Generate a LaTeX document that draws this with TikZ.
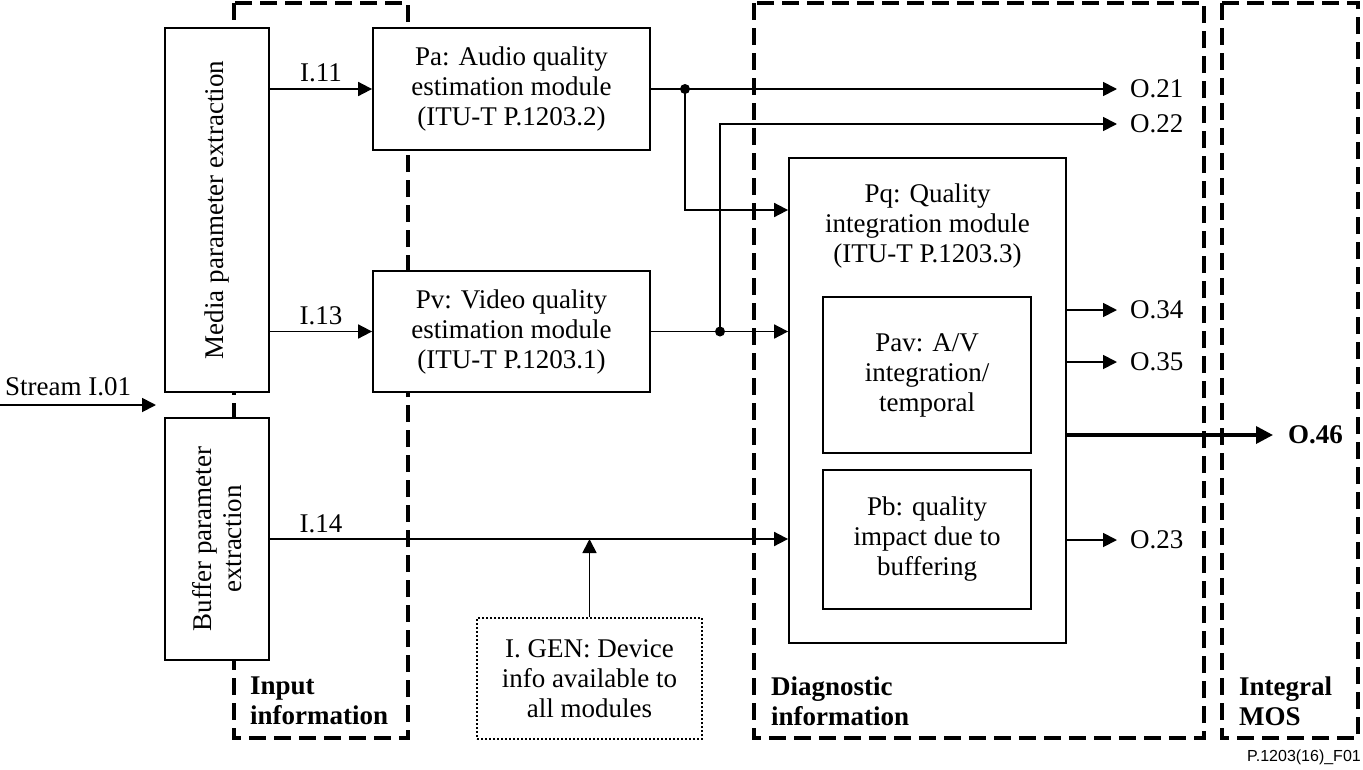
\documentclass[tikz,border=0pt]{standalone}
\usepackage{fontspec}
\setmainfont{Liberation Serif}
\newfontfamily\footfont{Liberation Sans}
\usetikzlibrary{arrows.meta,calc}
\tikzset{
  box/.style={draw, line width=1.8pt, fill=white, inner sep=0pt, align=center},
  dotbox/.style={draw, line width=1.5pt, dash pattern=on 2pt off 2pt, fill=white, inner sep=0pt, align=center},
  region/.style={draw, line width=3.5pt, dash pattern=on 17pt off 8pt},
  conn/.style={line width=1.8pt},
  arr/.style={conn, -{Triangle[length=14pt,width=14pt]}},
  thickarr/.style={line width=3.5pt, -{Triangle[length=17pt,width=17pt]}},
  lbl/.style={inner sep=0pt, anchor=west, inner xsep=13pt},
  btitle/.style={inner sep=0pt, anchor=west, align=left, font=\fontsize{27}{30}\selectfont\bfseries},
  jdot/.style={fill, circle, inner sep=0pt, minimum size=10pt}
}
\begin{document}
\begin{tikzpicture}[x=1pt, y=-1pt, font=\fontsize{27}{30}\selectfont]
\useasboundingbox (0,0) rectangle (1363,769);

% dashed regions
\draw[region] (234,3) rectangle (408,738);
\draw[region] (754,3) rectangle (1204,738);
\draw[region] (1222,3) rectangle (1358,738);

% boxes
\node[box, rotate=90, minimum width=364pt, minimum height=104pt] (media) at (217,210) {Media parameter extraction};
\node[box, rotate=90, minimum width=242pt, minimum height=104pt] (buffer) at (217,539) {Buffer parameter\\extraction};
\node[box, minimum width=277pt, minimum height=122pt] (pa) at (511.5,89) {Pa: Audio quality\\estimation module\\(ITU-T P.1203.2)};
\node[box, minimum width=277pt, minimum height=121pt] (pv) at (511.5,331.5) {Pv: Video quality\\estimation module\\(ITU-T P.1203.1)};
\node[box, minimum width=277pt, minimum height=485pt] (pq) at (927.5,400.5) {};
\node[inner sep=0pt, align=center] (pqt) at (927.5,226) {Pq: Quality\\integration module\\(ITU-T P.1203.3)};
\node[box, minimum width=208pt, minimum height=156pt] (pav) at (927,375) {Pav: A/V\\integration/\\temporal};
\node[box, minimum width=208pt, minimum height=139pt] (pb) at (927,539.5) {Pb: quality\\impact due to\\buffering};
\node[dotbox, minimum width=225pt, minimum height=121pt] (igen) at (589.5,678.5) {I. GEN: Device\\info available to\\all modules};

% output labels
\node[lbl] (o21) at (1117,89) {O.21};
\node[lbl] (o22) at (1117,124) {O.22};
\node[lbl] (o34) at (1117,310) {O.34};
\node[lbl] (o35) at (1117,362) {O.35};
\node[lbl] (o23) at (1117,540) {O.23};
\node[lbl, inner xsep=15pt, font=\fontsize{27}{30}\selectfont\bfseries] (o46) at (1273,435) {O.46};

% stream input
\coordinate (sin) at (0,405);
\coordinate (sout) at (156,405);
\node[inner sep=0pt, anchor=west] (stream) at (5,387) {Stream I.01};
\draw[arr] (sin) -- (sout);

% inputs to modules
\draw[arr] (media.south |- pa.west) -- node[above=6pt, inner sep=0pt] (l11) {I.11} (pa.west);
\draw[arr] (media.south |- pv.west) -- node[above=6pt, inner sep=0pt] (l13) {I.13} (pv.west);
\coordinate (b14) at (buffer.south);
\draw[arr] (b14) -- (pq.west |- b14);
\node[inner sep=0pt] (l14) at (321,524) {I.14};
\draw[arr] (igen.north) -- (igen.north |- b14);

% audio output
\coordinate (d1) at (685,89);
\draw[arr] (pa.east) -- (o21.west);
\coordinate (q1) at (pq.west |- 0,210);
\draw[arr] (d1) |- (q1);
\node[jdot] at (d1) {};

% video output
\coordinate (d2) at (720,331.5);
\draw[arr] (pv.east) -- (pq.west |- pv.east);
\draw[arr] (d2) |- (o22.west);
\node[jdot] at (d2) {};

% pq outputs
\draw[arr] (pq.east |- o34.west) -- (o34.west);
\draw[arr] (pq.east |- o35.west) -- (o35.west);
\draw[arr] (pq.east |- o23.west) -- (o23.west);
\draw[thickarr] (pq.east |- o46.west) -- (o46.west);

% region titles
\node[btitle] (tin) at (250,701) {Input\\information};
\node[btitle] (tdiag) at (771,701) {Diagnostic\\information};
\node[btitle] (tmos) at (1239,701) {Integral\\MOS};

% footer
\node[inner sep=0pt, anchor=east, font=\footfont\fontsize{16}{18}\selectfont] (foot) at (1361,757) {P.1203(16)\_F01};
\end{tikzpicture}
\end{document}
